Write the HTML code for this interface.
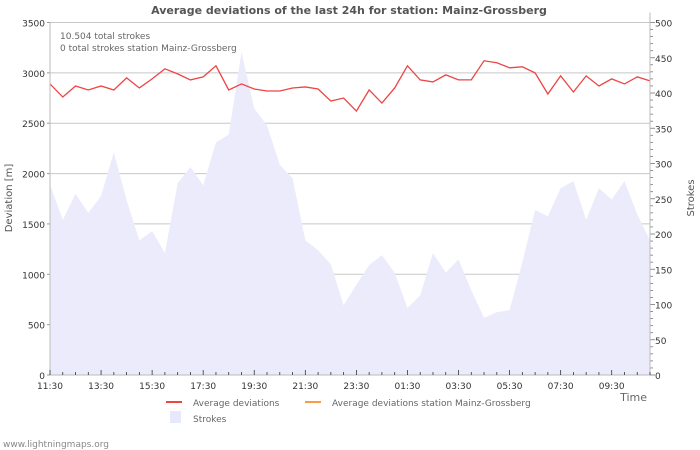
<!DOCTYPE html>
<html><head><meta charset="utf-8"><style>
body{margin:0;background:#fff;}
svg{display:block;font-family:"DejaVu Sans","Liberation Sans",sans-serif;}
</style></head><body>
<svg id="chart" width="700" height="450" viewBox="0 0 700 450">
<text x="349" y="14" text-anchor="middle" font-size="11" font-weight="bold" fill="#555">Average deviations of the last 24h for station: Mainz-Grossberg</text>
<g id="grid"></g>
<g id="area"></g>
<g id="line"></g>
<g id="axes"></g>
<text x="60" y="39" font-size="9" fill="#666">10.504 total strokes</text>
<text x="60" y="51" font-size="9" fill="#666">0 total strokes station Mainz-Grossberg</text>
<text transform="translate(12,198) rotate(-90)" text-anchor="middle" font-size="10" fill="#555">Deviation [m]</text>
<text transform="translate(694,198) rotate(-90)" text-anchor="middle" font-size="10" fill="#555">Strokes</text>
<text x="647" y="401" text-anchor="end" font-size="11" fill="#666">Time</text>
<g><rect x="166" y="401" width="16" height="2" fill="#ee4444"/><text x="193" y="406" font-size="9" fill="#666">Average deviations</text></g>
<g><rect x="305" y="401" width="16" height="2" fill="#ff9944"/><text x="332" y="406" font-size="9" fill="#666">Average deviations station Mainz-Grossberg</text></g>
<g><rect x="170" y="411" width="11" height="12" fill="#e8e8fc"/><text x="193" y="422" font-size="9" fill="#666">Strokes</text></g>
<text x="3" y="447" font-size="9" fill="#888">www.lightningmaps.org</text>
</svg>
<script>
const deviations=[2890,2760,2870,2830,2870,2830,2950,2850,2940,3040,2990,2930,2960,3070,2830,2890,2840,2820,2820,2850,2860,2840,2720,2750,2620,2830,2700,2850,3070,2930,2910,2980,2930,2930,3120,3100,3050,3060,3000,2790,2970,2810,2970,2870,2940,2890,2960,2920];
const strokes=[270,220,257,230,254,316,248,191,204,173,272,295,269,330,341,458,378,354,298,279,191,177,157,99,128,156,170,145,95,113,173,145,164,120,81,89,92,160,234,225,265,275,220,265,249,275,228,191];
const xLabels=["11:30","13:30","15:30","17:30","19:30","21:30","23:30","01:30","03:30","05:30","07:30","09:30"];
const yTicks=[0,500,1000,1500,2000,2500,3000,3500];
const y2Ticks=[0,50,100,150,200,250,300,350,400,450,500];
const NS="http://www.w3.org/2000/svg";
const X0=50,X1=650,Y0=375,Y1=22.5;
const n=deviations.length;
const step=(X1-X0)/(n-1);
const xs=i=>X0+i*step;
const yL=v=>Y0-(v/3500)*(Y0-Y1);
const yR=v=>Y0-(v/500)*(Y0-Y1);
function mk(tag,attrs,parent){const e=document.createElementNS(NS,tag);for(const k in attrs)e.setAttribute(k,attrs[k]);parent.appendChild(e);return e;}
const grid=document.getElementById('grid'),axes=document.getElementById('axes');
yTicks.forEach(v=>{
  if(v>0){const g=mk('line',{x1:X0,x2:X1,y1:yL(v),y2:yL(v),stroke:'#c8c8c8','stroke-width':1},grid);
  
  }
  const t=mk('text',{x:X0-5,y:yL(v)+4,'text-anchor':'end','font-size':9,fill:'#333'},axes);t.textContent=v;
  
  
  mk('line',{x1:X0-3,x2:X0,y1:yL(v),y2:yL(v),stroke:'#999'},axes);
});
y2Ticks.forEach(v=>{
  const t=mk('text',{x:X1+5,y:yR(v)+4,'font-size':9,fill:'#333'},axes);t.textContent=v;
  
  
});
for(let v=0;v<=500;v+=10){mk('line',{x1:X1,x2:X1+(v%50?3:5),y1:yR(v),y2:yR(v),stroke:'#777','stroke-width':0.8},axes);}
// area
let d=`M${X0},${Y0}`;strokes.forEach((v,i)=>{d+=` L${xs(i)},${yR(v)}`;});d+=` L${xs(n-1)},${Y0} Z`;
const ar=mk('path',{d:d,fill:'#ebebfc'},document.getElementById('area'));


// line
const pts=deviations.map((v,i)=>`${xs(i)},${yL(v)}`).join(' ');
const pl=mk('polyline',{points:pts,fill:'none',stroke:'#ee4444','stroke-width':1.3},document.getElementById('line'));


// axes lines
mk('line',{x1:X0,x2:X0,y1:Y1,y2:Y0,stroke:'#bbb'},axes);
mk('line',{x1:X1,x2:X1,y1:Y1-10,y2:Y0,stroke:'#bbb'},axes);
mk('line',{x1:X0,x2:X1,y1:Y0,y2:Y0,stroke:'#bbb'},axes);
for(let i=0;i<n;i++){mk('line',{x1:xs(i),x2:xs(i),y1:Y0,y2:Y0-(i%4?3:5),stroke:'#333','stroke-width':0.8},axes);}
xLabels.forEach((l,k)=>{
  const t=mk('text',{x:xs(k*4),y:Y0+14,'text-anchor':'middle','font-size':9,fill:'#333'},axes);t.textContent=l;
  
  
});
</script>
</body></html>
